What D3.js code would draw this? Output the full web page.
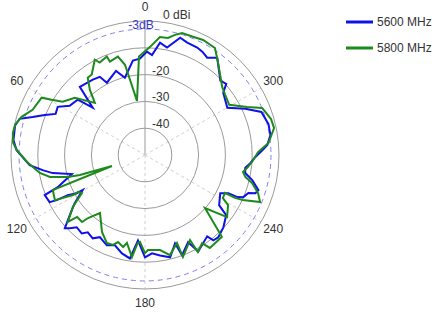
<!DOCTYPE html>
<html><head><meta charset="utf-8">
<script src="https://cdn.jsdelivr.net/npm/d3@7"></script>
<style>body{margin:0;background:#fff} svg{display:block}</style>
</head><body><svg id="c" width="435" height="320"></svg>
<script>
const seriesNames = ["5600 MHz", "5800 MHz"];
const seriesColors = ["#1010e8", "#1e8a1e"];
// angle in degrees (counter-clockwise from top), gain in dBi, in path order
const angle5600 = [358.9,3.0,7.3,14.6,19.0,27.8,30.0,34.7,43.7,47.9,50.6,56.8,61.1,65.3,68.2,71.3,73.9,77.2,83.5,87.8,95.0,98.4,101.1,104.6,110.2,111.8,116.3,117.1,117.5,119.2,119.4,124.4,128.7,132.4,134.2,136.6,141.1,143.5,147.9,151.2,157.1,161.6,166.8,171.7,175.3,180,184.1,188.5,193.8,198.8,200.3,206.3,208.9,217.4,218.7,221.7,227.3,233.5,235.9,243.1,245.4,245.5,246.8,249.8,250.9,252.8,256.8,259.8,262.6,265.6,269.0,272.4,274.7,279.1,284.1,290.3,294.7,299.8,308.5,311.2,314.6,323.4,327.4,331.0,334.1,339.4,343.3,348.4,352.4,356.0];
const gain5600 = [-11.4,-14.0,-14.5,-20.2,-16.8,-19.5,-16.3,-15.8,-14.8,-23.7,-17.5,-16.4,-12.8,-13.3,-9.7,-5.7,-1.3,-0.3,-0.6,-2.0,-6.8,-11.4,-14.9,-21.8,-15.3,-9.7,-10.3,-13.0,-17.5,-20.8,-23.3,-18.2,-14.0,-9.5,-10.8,-12.9,-12.4,-14.1,-13.3,-15.0,-13.4,-14.5,-12.3,-11.0,-18.0,-11.8,-13.2,-12.1,-10.7,-15.2,-10.1,-13.7,-8.9,-11.8,-9.2,-8.9,-10.2,-12.3,-16.6,-18.5,-15.8,-12.1,-10.1,-8.9,-6.4,-5.7,-8.9,-12.0,-12.3,-10.6,-8.8,-6.1,-4.2,-2.6,-2.5,-3.7,-8.8,-14.6,-12.7,-9.7,-10.5,-4.8,-6.9,-5.9,-5.4,-5.2,-4.3,-9.1,-7.7,-12.6];
const angle5800 = [3.5,8.4,12.5,15.4,20.6,21.2,26.1,27.8,33.5,36.5,40.2,43.9,50.8,57.1,59.4,61.0,68.1,72.8,76.7,80.6,84.8,87.8,93.4,99.7,103.0,105.9,107.1,108.4,110.8,116.6,119.1,118.9,121.1,125.8,131.0,132.4,136.8,137.9,142.2,150.8,156.6,160.4,162.8,166.6,168.4,172.7,175.2,176.7,180,181.8,189.0,194.0,200.0,200.4,207.9,208.6,212.9,214.9,223.2,228.5,232.9,238.9,241.1,244.6,244.5,245.3,247.8,251.4,255.3,257.6,260.2,263.4,266.3,271.5,275.6,281.8,285.9,291.9,295.2,300.8,306.9,311.4,321.9,326.8,333.2,337.9,343.1,346.0,348.9,352.8,357.3];
const gain5800 = [-13.2,-29.6,-15.5,-11.9,-12.8,-10.6,-11.6,-9.8,-14.0,-14.1,-18.1,-23.0,-16.2,-13.4,-9.5,-5.9,-4.8,-1.8,-0.3,0,-0.6,-2.2,-5.9,-10.2,-13.6,-20.1,-24.6,-37.0,-13.2,-12.4,-19.3,-21.5,-22.5,-16.8,-11.9,-15.7,-15.7,-18.3,-22.6,-17.1,-14.2,-14.4,-16.0,-14.7,-16.5,-11.6,-17.0,-17.5,-13.4,-14.5,-14.1,-11.5,-15.1,-9.4,-14.1,-8.8,-10.8,-7.7,-8.1,-20.1,-11.6,-13.8,-16.8,-17.0,-12.8,-9.8,-3.6,-5.5,-8.7,-11.6,-12.9,-11.3,-10.0,-7.8,-3.7,-0.8,-1.1,-2.9,-7.9,-13.4,-12.6,-11.6,-5.9,-2.3,-1.9,-2.4,-2.4,-3.8,-5.5,-5.6,-9.6];
const ringLevels = [-40, -30, -20, -10, 0];
const ringLabels = [-40, -30, -20];
const angleTicks = [0, 60, 120, 180, 240, 300];
const refLevel = -3;

const cx = 145, cy = 155;
const svg = d3.select("#c");
const r = d3.scaleLinear().domain([-50, 0]).range([0, 134]);
const g = svg.append("g").attr("transform", `translate(${cx},${cy})`);
const rad = a => -a * Math.PI / 180;
const font = "Liberation Sans, Arial, sans-serif";

// spokes
angleTicks.forEach(a => {
  const solid = a === 0;
  g.append("line").attr("x1", 0).attr("y1", 0)
    .attr("x2", -r(0) * Math.sin(a * Math.PI / 180))
    .attr("y2", -r(0) * Math.cos(a * Math.PI / 180))
    .attr("stroke", solid ? "#9a9a9a" : "#cfcfcf")
    .attr("stroke-width", 1)
    .attr("stroke-dasharray", solid ? null : "3,3");
});
// rings
g.selectAll("circle.ring").data(ringLevels).join("circle")
  .attr("class", "ring").attr("r", d => r(d))
  .attr("fill", "none").attr("stroke", "#9a9a9a").attr("stroke-width", 1);
// -3 dB ring
g.append("circle").attr("r", r(refLevel)).attr("fill", "none")
  .attr("stroke", "#8080ee").attr("stroke-width", 1).attr("stroke-dasharray", "5,4");

// angle labels
g.selectAll("text.ang").data(angleTicks).join("text")
  .attr("class", "ang")
  .attr("x", d => -148 * Math.sin(d * Math.PI / 180))
  .attr("y", d => -148 * Math.cos(d * Math.PI / 180))
  .attr("text-anchor", "middle").attr("dominant-baseline", "central")
  .attr("font-family", font).attr("font-size", 12).attr("fill", "#333")
  .text(d => d);

// curves
const line = d3.lineRadial().curve(d3.curveLinearClosed)
  .angle(d => rad(d[0])).radius(d => r(d[1]));
const data = [d3.zip(angle5600, gain5600), d3.zip(angle5800, gain5800)];
data.forEach((pts, i) => {
  g.append("path").attr("d", line(pts)).attr("fill", "none")
    .attr("stroke", seriesColors[i]).attr("stroke-width", 2)
    .attr("stroke-linejoin", "miter");
});

// radial labels
g.selectAll("text.rl").data(ringLabels).join("text")
  .attr("class", "rl").attr("x", 7).attr("y", d => -r(d) - 4)
  .attr("dominant-baseline", "central")
  .attr("font-family", font).attr("font-size", 12).attr("fill", "#333")
  .text(d => d);
g.append("text").attr("x", 18).attr("y", -140).attr("dominant-baseline", "central")
  .attr("font-family", font).attr("font-size", 12).attr("fill", "#333").text("0 dBi");
g.append("text").attr("x", -4).attr("y", -r(refLevel) - 4).attr("text-anchor", "middle")
  .attr("dominant-baseline", "central")
  .attr("font-family", font).attr("font-size", 12).attr("fill", "#3838c8").text(refLevel + "dB");

// legend
const lg = svg.append("g");
seriesNames.forEach((n, i) => {
  const y = 22 + i * 26;
  lg.append("line").attr("x1", 346).attr("x2", 373).attr("y1", y).attr("y2", y)
    .attr("stroke", seriesColors[i]).attr("stroke-width", 3);
  lg.append("text").attr("x", 377).attr("y", y).attr("dominant-baseline", "central")
    .attr("font-family", font).attr("font-size", 12).attr("fill", "#333").text(n);
});
</script></body></html>
